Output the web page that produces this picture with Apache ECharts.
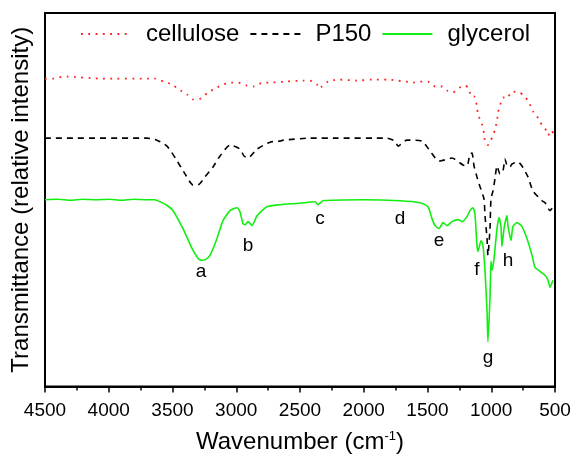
<!DOCTYPE html>
<html><head><meta charset="utf-8">
<script src="https://cdn.jsdelivr.net/npm/echarts@6/dist/echarts.min.js"></script>
<style>html,body{margin:0;padding:0;background:#fff}#c{width:575px;height:459px}</style>
</head><body><div id="c"></div>
<script>
var xTicks = [4500,4000,3500,3000,2500,2000,1500,1000,500];
var seriesNames = ['cellulose','P150','glycerol'];
var cellulose = [[4500,310],[4430,310],[4359,312],[4327,312],[4069,310],[3637,310],[3614,309],[3567,307],[3504,304],[3449,299],[3386,294],[3339,289],[3276,290],[3222,296],[3151,301],[3104,304],[3041,306],[2986,306],[2916,303],[2861,302],[2790,306],[2727,306],[2602,307],[2477,308],[2422,308],[2367,304],[2351,300],[2328,302],[2280,307],[2210,309],[2053,308],[1935,309],[1810,309],[1739,308],[1677,307],[1614,306],[1559,307],[1496,307],[1441,302],[1386,302],[1347,298],[1300,296],[1261,300],[1206,303],[1175,300],[1159,292],[1135,292],[1112,282],[1104,274],[1073,264],[1057,255],[1049,247],[1026,243],[1010,247],[986,252],[971,259],[955,267],[947,276],[931,283],[908,291],[877,290],[837,297],[782,296],[743,293],[704,286],[673,277],[641,272],[618,266],[578,260],[555,253],[524,258],[516,255]];
var p150 = [[4500,250],[3700,250],[3622,248],[3543,242],[3473,229],[3402,214],[3340,203],[3300,203],[3245,211],[3182,221],[3127,232],[3049,243],[2971,239],[2939,232],[2908,230],[2837,239],[2735,246],[2657,247],[2633,248],[2422,250],[2210,250],[1818,250],[1755,247],[1731,242],[1661,248],[1543,247],[1480,237],[1426,228],[1402,227],[1308,230],[1222,223],[1190,222],[1167,234],[1151,235],[1135,222],[1112,211],[1088,201],[1057,189],[1049,172],[1033,149],[1026,132],[1010,159],[1002,189],[986,197],[971,209],[955,222],[931,214],[908,217],[892,229],[877,223],[853,221],[837,224],[790,226],[759,222],[712,211],[673,197],[602,187],[578,185],[539,177],[516,181]];
var glycerol = [[4500,188],[4400,188.5],[4300,187.5],[4200,188.5],[4100,188],[4000,188.5],[3900,187.5],[3800,188.5],[3700,188],[3637,188],[3598,186],[3550,183],[3496,177],[3418,159],[3347,139],[3300,129],[3276,127],[3240,128],[3206,132],[3151,149],[3104,167],[3049,177],[2994,180],[2971,176],[2947,164],[2928,163],[2908,166],[2876,162],[2837,172],[2759,181],[2657,183],[2500,184.5],[2382,186],[2359,183],[2320,187],[2006,188],[1716,187],[1559,185],[1496,181],[1465,169],[1441,162],[1410,159],[1378,165],[1347,162],[1308,166],[1261,168],[1229,166],[1190,171],[1167,177],[1143,180],[1128,174],[1112,142],[1104,136],[1080,147],[1065,142],[1049,116],[1033,76],[1026,45],[1010,89],[1002,126],[994,117],[978,129],[955,159],[939,170],[924,162],[916,141],[900,159],[877,172],[869,162],[845,147],[830,161],[798,165],[759,161],[720,149],[680,132],[657,120],[618,116],[578,112],[555,107],[539,100],[516,107]];
var peakLabels = [[3276,116,'a'],[2908,142,'b'],[2343,169,'c'],[1716,169,'d'],[1410,147,'e'],[1112,118,'f'],[1026,29,'g'],[869,127,'h']];

var chart = echarts.init(document.getElementById('c'), null, {renderer:'canvas'});
var FONT = '"Liberation Sans", Arial, sans-serif';
chart.setOption({
  animation:false,
  backgroundColor:'#fff',
  grid:{left:45,right:20,top:13,bottom:70,show:true,borderColor:'#000',borderWidth:2,backgroundColor:'transparent'},
  legend:{
    data:seriesNames, left:75, top:17, itemWidth:50, itemHeight:14, itemGap:10,
    itemStyle:{opacity:0},
    textStyle:{fontFamily:FONT,fontSize:24,color:'#000',padding:[0,0,0,10]}
  },
  xAxis:{
    type:'value', inverse:true, min:500, max:4500, interval:500,
    name:'Wavenumber (cm{sup|-1})', nameLocation:'middle', nameGap:43,
    nameTextStyle:{fontFamily:FONT,fontSize:24,color:'#000',rich:{sup:{fontFamily:FONT,fontSize:13,color:'#000',verticalAlign:'top',padding:[0,0,12,0]}}},
    axisLine:{show:true,onZero:false,lineStyle:{color:'#000',width:2}},
    axisTick:{show:true,inside:false,length:6,lineStyle:{color:'#000',width:1.5}},
    minorTick:{show:true,splitNumber:2,length:4,lineStyle:{color:'#000',width:1.5}},
    axisLabel:{fontFamily:FONT,fontSize:19,color:'#000',margin:15,
      formatter:function(v){return xTicks.indexOf(v)>=0?String(v):'';}},
    splitLine:{show:false}
  },
  yAxis:{
    type:'value', min:0, max:376,
    name:'Transmittance (relative intensity)', nameLocation:'middle', nameGap:12,
    nameTextStyle:{fontFamily:FONT,fontSize:24,color:'#000'},
    axisLine:{show:true,lineStyle:{color:'#000',width:2}},
    axisTick:{show:false}, axisLabel:{show:false}, splitLine:{show:false}
  },
  series:[
    {name:'cellulose',type:'line',data:cellulose,symbol:'none',smooth:0.2,
     lineStyle:{color:'#ff2020',width:1.8,type:[1.8,5.5]},itemStyle:{color:'#ff2020'}},
    {name:'P150',type:'line',data:p150,symbol:'none',smooth:0.2,
     lineStyle:{color:'#000',width:1.6,type:[6,5]},itemStyle:{color:'#000'}},
    {name:'glycerol',type:'line',data:glycerol,symbol:'none',smooth:0.2,
     lineStyle:{color:'#11ee11',width:1.6},itemStyle:{color:'#11ee11'}},
    {name:'labels',type:'scatter',data:peakLabels.map(function(p){return {value:[p[0],p[1]],name:p[2]};}),
     symbolSize:0,itemStyle:{color:'#000',opacity:1},silent:true,
     label:{show:true,position:'inside',formatter:'{b}',fontFamily:FONT,fontSize:19,color:'#000',opacity:1}}
  ]
});
</script></body></html>
